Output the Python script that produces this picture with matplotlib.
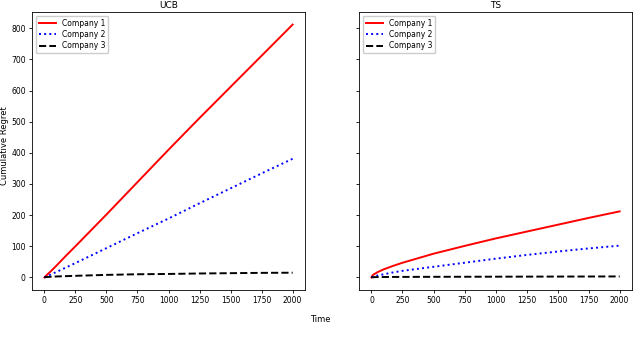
import matplotlib
matplotlib.use("Agg")
import matplotlib.pyplot as plt

# =========================
# Data
# =========================
time = [0, 10, 25, 50, 100, 175, 250, 500, 750, 1000, 1250, 1500, 1750, 2000]

ucb_company1 = [0, 4, 10, 19, 39, 70, 100, 202, 306, 410, 512, 612, 712, 812]
ucb_company2 = [0, 2, 4, 9, 18, 32, 46, 94, 142, 189, 238, 286, 334, 381]
ucb_company3 = [0, 0.8, 1.3, 2, 3, 4, 5, 8, 10, 11, 12.5, 13.5, 14.5, 15]

ts_company1 = [0, 7, 11, 17, 26, 37, 47, 76, 101, 125, 147, 169, 191, 212]
ts_company2 = [0, 2, 4, 6, 10, 16, 21, 34, 47, 60, 72, 83, 93, 102]
ts_company3 = [0, 0.5, 0.8, 1, 1.2, 1.4, 1.5, 1.8, 2, 2.2, 2.4, 2.6, 2.8, 3]

labels = ["Company 1", "Company 2", "Company 3"]
styles = [("red", "-"), ("blue", ":"), ("black", "--")]

# =========================
# Figure
# =========================
plt.rcParams["font.size"] = 5.5

fig = plt.figure(figsize=(6.4, 3.42), dpi=100)
ax0 = fig.add_axes([0.05, 0.152, 0.4266, 0.813])
ax1 = fig.add_axes([0.561, 0.152, 0.4266, 0.813], sharey=ax0)

panels = [
    (ax0, "UCB", [ucb_company1, ucb_company2, ucb_company3]),
    (ax1, "TS", [ts_company1, ts_company2, ts_company3]),
]

for ax, title, series in panels:
    for values, label, (color, ls) in zip(series, labels, styles):
        ax.plot(time, values, color=color, linestyle=ls, linewidth=1.4, label=label)
    ax.set_title(title, fontsize=6.5, pad=3)
    ax.set_xticks([0, 250, 500, 750, 1000, 1250, 1500, 1750, 2000])
    ax.tick_params(labelsize=5.5, length=2.5, width=0.6, pad=2)
    for spine in ax.spines.values():
        spine.set_linewidth(0.6)
    ax.legend(loc="upper left", fontsize=5.5, handlelength=2.2,
              borderpad=0.4, labelspacing=0.3, framealpha=1)

ax1.tick_params(labelleft=False)
ax0.set_ylabel("Cumulative Regret", fontsize=6)
ax0.yaxis.set_label_coords(-0.085, 0.52)
fig.text(0.5, 0.067, "Time", ha="center", va="center", fontsize=6)

fig.savefig("out.png", dpi=100)
